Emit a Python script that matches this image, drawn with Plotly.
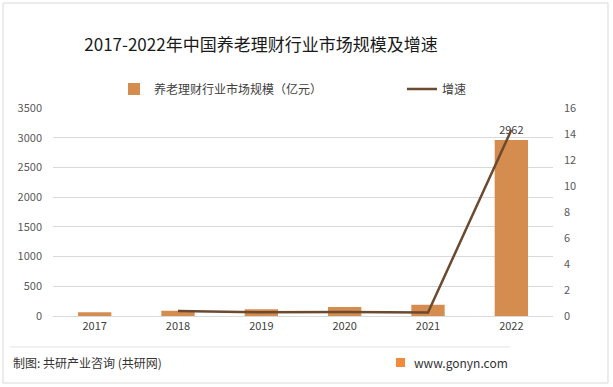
import plotly.graph_objects as go

years = ["2017", "2018", "2019", "2020", "2021", "2022"]
scale = [65, 90, 115, 150, 190, 2962]
growth_years = ["2018", "2019", "2020", "2021", "2022"]
growth = [0.38, 0.28, 0.30, 0.27, 14.3]
left_ticks = [0, 500, 1000, 1500, 2000, 2500, 3000, 3500]
right_ticks = [0, 2, 4, 6, 8, 10, 12, 14, 16]

FONT = "Noto Sans CJK SC"
W, H = 613, 387
PL, PR, PT, PB = 53, 553, 108, 316
PW, PH = PR - PL, PB - PT


def px(x):
    return (x - PL) / PW


def py(y):
    return (PB - y) / PH


fig = go.Figure()
fig.add_trace(go.Bar(
    x=years, y=scale, name="养老理财行业市场规模（亿元）", legend="legend",
    marker=dict(color="#D48C4F", line=dict(width=0)), width=0.4,
    text=[""] * 5 + ["2962"], textposition="outside", cliponaxis=False,
    textfont=dict(size=11, color="#404040", family=FONT),
))
fig.add_trace(go.Scatter(
    x=growth_years, y=growth, name="增速", yaxis="y2", mode="lines", legend="legend2",
    line=dict(color="#6B4A30", width=2.5),
))

leg_common = dict(orientation="h", xanchor="left", yanchor="middle",
                  font=dict(size=12, color="#404040", family=FONT),
                  itemwidth=30, bgcolor="rgba(0,0,0,0)")

fig.update_layout(
    width=W, height=H,
    margin=dict(l=PL, r=W - PR, t=PT, b=H - PB, autoexpand=False),
    paper_bgcolor="white", plot_bgcolor="white",
    font=dict(family=FONT, size=11, color="#595959"),
    title=dict(text="2017-2022年中国养老理财行业市场规模及增速", x=261 / W, xanchor="center",
               y=1 - 45 / H, yanchor="middle",
               font=dict(size=17, color="#1a1a1a", family=FONT)),
    showlegend=True,
    legend=dict(x=px(114), y=py(89), **leg_common),
    legend2=dict(x=px(402), y=py(89), **leg_common),
    xaxis=dict(type="category", categoryorder="array", categoryarray=years,
               showline=True, linecolor="#D9D9D9", linewidth=1, ticks="",
               tickfont=dict(size=11, color="#404040"), showgrid=False),
    yaxis=dict(range=[0, 3500], tickvals=left_ticks, showgrid=True, gridcolor="#D9D9D9",
               gridwidth=1, zeroline=False, ticks="", ticklabelstandoff=10,
               tickfont=dict(size=11, color="#595959")),
    yaxis2=dict(range=[0, 16], tickvals=right_ticks, overlaying="y", side="right",
                showgrid=False, zeroline=False, ticks="", ticklabelstandoff=10,
                tickfont=dict(size=11, color="#595959")),
    shapes=[
        dict(type="rect", xref="paper", yref="paper", x0=px(3), x1=px(608),
             y0=py(383), y1=py(3),
             line=dict(color="#D9D9D9", width=1), fillcolor="rgba(0,0,0,0)", layer="below"),
        dict(type="line", xref="paper", yref="paper", x0=px(10), x1=px(510),
             y0=py(347), y1=py(347),
             line=dict(color="#E3E3E3", width=1)),
        dict(type="rect", xref="paper", yref="paper", x0=px(396), x1=px(405),
             y0=py(367), y1=py(358),
             line=dict(width=0), fillcolor="#F08A3C"),
    ],
    annotations=[
        dict(text="制图: 共研产业咨询 (共研网)", xref="paper", yref="paper",
             x=px(11), xanchor="left", y=py(362), yanchor="middle",
             showarrow=False, font=dict(size=12, color="#333333", family=FONT)),
        dict(text="www.gonyn.com", xref="paper", yref="paper",
             x=px(510), xanchor="right", y=py(362), yanchor="middle",
             showarrow=False, font=dict(size=12, color="#333333", family=FONT)),
    ],
)

fig.write_html("out.html", config={"displayModeBar": False},
               post_script="document.body.style.margin='0';")
